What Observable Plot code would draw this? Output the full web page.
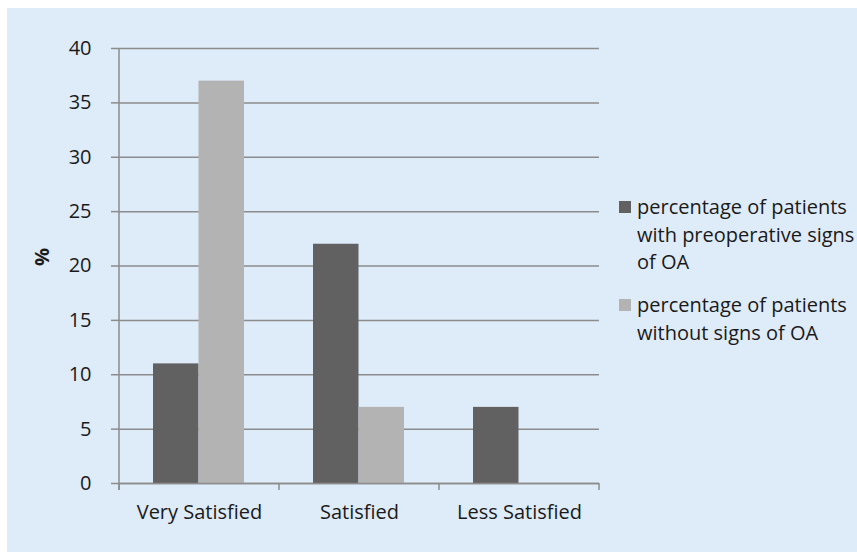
<!DOCTYPE html>
<html>
<head>
<meta charset="utf-8">
<script src="https://cdn.jsdelivr.net/npm/d3@7"></script>
<script src="https://cdn.jsdelivr.net/npm/@observablehq/plot@0.6"></script>
<style>
  html, body { margin: 0; padding: 0; background: #ffffff; }
  #panel { position: absolute; left: 7px; top: 8px; width: 850px; height: 544px; background: #deebf8; font-family: "Open Sans", sans-serif; color: #1a1a1a; }
  #chart { position: absolute; left: 0; top: 0; }
  #legend { position: absolute; left: 612px; top: 185px; font-size: 20px; line-height: 27.5px; }
  .item { display: flex; align-items: flex-start; margin-bottom: 15.5px; }
  .sw { width: 12px; height: 12px; margin-top: 8px; margin-right: 6px; flex: none; }
</style>
</head>
<body>
<div id="panel">
  <div id="chart"></div>
  <div id="legend"></div>
</div>
<script>
const categories = ["Very Satisfied", "Satisfied", "Less Satisfied"];
const seriesNames = ["percentage of patients with preoperative signs of OA", "percentage of patients without signs of OA"];
const legendLines = [["percentage of patients", "with preoperative signs", "of OA"], ["percentage of patients", "without signs of OA"]];
const withOA = [11, 22, 7];
const withoutOA = [37, 7, 0];
const yTicks = [0, 5, 10, 15, 20, 25, 30, 35, 40];
const colors = ["#616161", "#b3b3b3"];

const rowsWith = categories.map((c, i) => ({category: c, value: withOA[i]}));
const rowsWithout = categories.map((c, i) => ({category: c, value: withoutOA[i]}));

const axisColor = "#8c8c8c";

function boundaryTicks(index, scales, values, dimensions) {
  const g = d3.create("svg:g").attr("stroke", axisColor).attr("stroke-width", 1.5);
  const x = scales.x, y = scales.y;
  const bw = x.bandwidth();
  const edges = categories.map(c => x(c)).concat([x(categories[categories.length - 1]) + bw]);
  // y-axis line
  g.append("line").attr("x1", edges[0]).attr("x2", edges[0]).attr("y1", y(40)).attr("y2", y(0) + 7);
  // category boundary ticks on x-axis
  for (const e of edges) {
    g.append("line").attr("x1", e).attr("x2", e).attr("y1", y(0)).attr("y2", y(0) + 7);
  }
  return g.node();
}

const plot = Plot.plot({
  width: 850,
  height: 544,
  marginLeft: 112,
  marginRight: 258,
  marginTop: 40,
  marginBottom: 69,
  style: {background: "transparent", fontFamily: "'Open Sans', sans-serif", fontSize: "20px", color: "#1a1a1a", overflow: "visible"},
  x: {domain: categories, padding: 0, label: null},
  y: {domain: [0, 40], label: null},
  marks: [
    Plot.ruleY(yTicks, {stroke: axisColor, strokeWidth: 1.5}),
    Plot.barY(rowsWith, {x: "category", y: "value", fill: colors[0], insetLeft: 34, insetRight: 80.5}),
    Plot.barY(rowsWithout, {x: "category", y: "value", fill: colors[1], insetLeft: 79.5, insetRight: 35}),
    Plot.ruleY([0], {stroke: axisColor, strokeWidth: 1.5}),
    boundaryTicks,
    Plot.axisY({ticks: yTicks, tickSize: 8, tickPadding: 20, stroke: axisColor, strokeWidth: 1.5, label: null, fontSize: 20}),
    Plot.axisX({tickSize: 0, tickPadding: 21, label: null, fontSize: 20}),
    Plot.text(["%"], {frameAnchor: "left", dx: -77, rotate: -90, fontWeight: "bold", fontSize: 20, fill: "#1a1a1a"})
  ]
});
document.getElementById("chart").appendChild(plot);

const legend = document.getElementById("legend");
seriesNames.forEach((name, i) => {
  const item = document.createElement("div");
  item.className = "item";
  item.title = name;
  const sw = document.createElement("div");
  sw.className = "sw";
  sw.style.background = colors[i];
  const txt = document.createElement("div");
  txt.innerHTML = legendLines[i].join("<br>");
  item.appendChild(sw);
  item.appendChild(txt);
  legend.appendChild(item);
});
</script>
</body>
</html>
